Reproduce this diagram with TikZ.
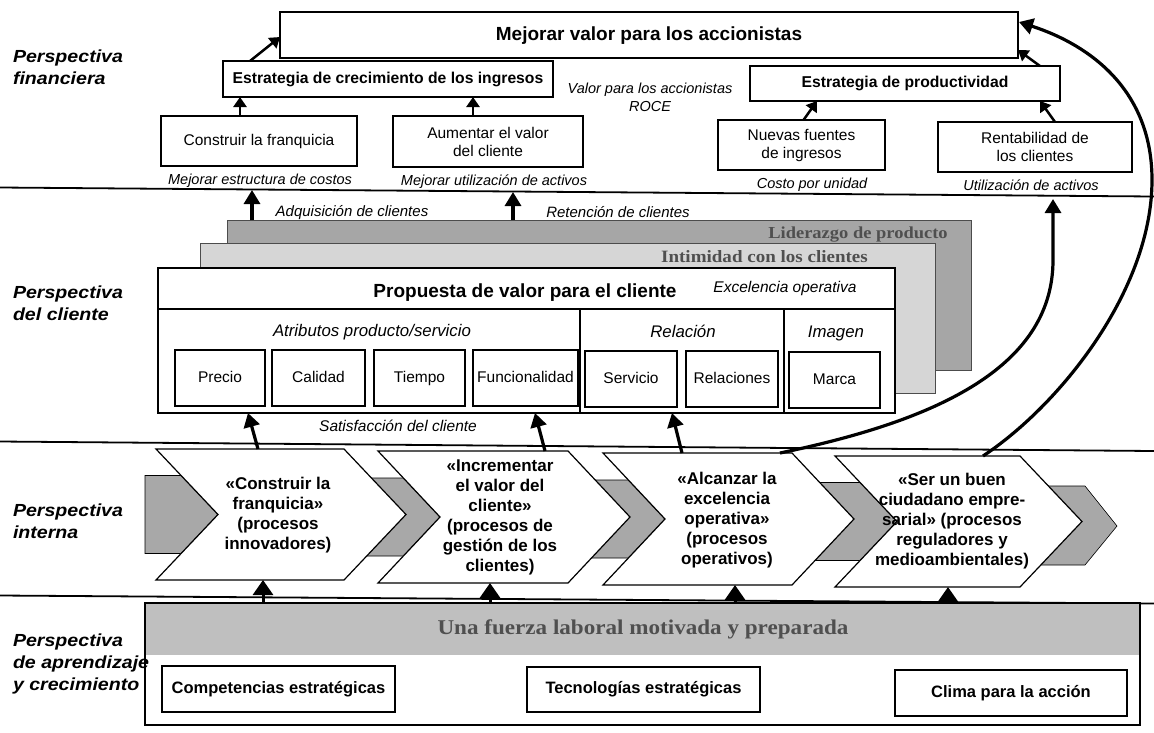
\documentclass[tikz,border=0pt]{standalone}
\usepackage{fontspec}
\setmainfont{Liberation Sans}
\newfontfamily\labfont{Liberation Sans}[FakeStretch=1.12]
\newfontfamily\serfont{Liberation Serif}[FakeStretch=1.1]
\usetikzlibrary{arrows.meta,calc}
\definecolor{dkband}{HTML}{A6A6A6}
\definecolor{ltband}{HTML}{D6D6D6}
\definecolor{lrnband}{HTML}{BFBFBF}
\definecolor{chgray}{HTML}{A8A8A8}
\definecolor{bandtext}{HTML}{4F4F4F}
\newcommand\mychev[4]{% L T B W
  \pgfmathsetmacro\cM{(#2+#3)/2}%
  \draw[chev] (#1,#2) -- ({#1+#4},#2) -- ({#1+#4+62},\cM) -- ({#1+#4},#3) -- (#1,#3) -- ({#1+62},\cM) -- cycle;}
\newcommand\mygray[4]{% xa, L T B of next chevron
  \pgfmathsetmacro\gM{(#3+#4)/2}%
  \pgfmathsetmacro\gx{#2+62*(1-39/(\gM-#3))}%
  \draw[gch] (#1,{\gM-39}) -- (\gx,{\gM-39}) -- ({#2+62},\gM) -- (\gx,{\gM+39}) -- (#1,{\gM+39}) -- cycle;}
\tikzset{
  every node/.style={inner sep=0pt, outer sep=0pt},
  box/.style={draw, line width=1.3pt, fill=white, align=center, font=\fontsize{15.5}{18}\selectfont},
  one/.style={text height=11pt, text depth=3pt},
  bbox/.style={box, one, font=\fontsize{15.7}{19}\selectfont\bfseries},
  lbl/.style={align=left, anchor=west, font=\fontsize{17.5}{22}\selectfont\labfont\bfseries\itshape},
  itl/.style={align=center, font=\fontsize{14.5}{18}\selectfont\itshape},
  band/.style={draw=black!70, line width=0.8pt},
  btext/.style={text=bandtext, one, font=\serfont\bfseries},
  arr/.style={-{Triangle[length=14pt,width=16pt]}, line width=3.2pt},
  sarr/.style={-{Triangle[length=10pt,width=13pt]}, line width=2.5pt},
  barr/.style={-{Triangle[length=15pt,width=20pt]}, line width=3pt},
  chev/.style={draw, line width=1.2pt, fill=white},
  gch/.style={fill=chgray, draw=black, line width=0.6pt},
  ctext/.style={align=center, font=\fontsize{17}{20}\selectfont\bfseries},
  sep/.style={line width=1.8pt},
}
\begin{document}
\begin{tikzpicture}[x=1pt,y=-1pt]
\useasboundingbox (0,0) rectangle (1154,732);
\fill[white] (0,0) rectangle (1154,732);

% section lines
\draw[sep] (0,187.5) -- (1154,196.5);
\draw[sep] (0,441.5) -- (1154,451);
\draw[sep] (0,595.5) -- (1154,603.5);

% left labels
\node[lbl] (pf) at (13,67) {Perspectiva\\financiera};
\node[lbl] (pc) at (13,303) {Perspectiva\\del cliente};
\node[lbl] (pi) at (13,521) {Perspectiva\\interna};
\node[lbl] (pa) at (13,664) {Perspectiva\\de aprendizaje\\y crecimiento};

% ---------------- financial
\node[bbox, font=\fontsize{19}{22}\selectfont\bfseries, minimum width=738pt, minimum height=46pt, text height=14pt, text depth=4pt] (mej) at (649,35) {Mejorar valor para los accionistas};
\node[bbox, minimum width=330pt, minimum height=36pt] (ecr) at (388,79) {Estrategia de crecimiento de los ingresos};
\node[bbox, minimum width=310pt, minimum height=35pt] (epr) at (905,83.5) {Estrategia de productividad};
\node[box, one, minimum width=196pt, minimum height=50pt] (cons) at (259,141) {Construir la franquicia};
\node[box, minimum width=190pt, minimum height=51pt] (aum) at (488,141.5) {Aumentar el valor\\del cliente};
\node[box, minimum width=167pt, minimum height=50pt] (nue) at (801.5,145) {Nuevas fuentes\\de ingresos};
\node[box, minimum width=194pt, minimum height=50pt] (ren) at (1035,147) {Rentabilidad de\\los clientes};
\node[itl] (vpa) at (650,97) {Valor para los accionistas\\ROCE};
\node[itl, one] (l1) at (260,180) {Mejorar estructura de costos};
\node[itl, one] (l2) at (494,181) {Mejorar utilización de activos};
\node[itl, one] (l3) at (812,184) {Costo por unidad};
\node[itl, one] (l4) at (1031,186) {Utilización de activos};

\draw[sarr] ([xshift=-19pt]cons.north) -- ([xshift=-19pt]cons.north |- ecr.south);
\draw[sarr] ([xshift=-15pt]aum.north) -- ([xshift=-15pt]aum.north |- ecr.south);
\draw[sarr] ([xshift=27pt]ecr.north west) -- ([yshift=-2pt]mej.west);
\draw[sarr] ([xshift=2pt]nue.north) -- ([xshift=-88pt]epr.south);
\draw[sarr] ([xshift=20pt]ren.north) -- ([xshift=135pt]epr.south);
\draw[sarr] ([xshift=135pt]epr.north) -- ([yshift=8pt]mej.south east);

% ---------------- customer
\node[band, fill=dkband, minimum width=744pt, minimum height=150pt] (lid) at (599,295) {};
\node[band, fill=ltband, minimum width=735pt, minimum height=150pt] (int) at (567.5,318) {};
\node[draw, line width=1.3pt, fill=white, minimum width=737pt, minimum height=145pt] (prop) at (526.5,340.5) {};
\node[btext, font=\fontsize{16.8}{20}\selectfont\serfont\bfseries] (lidt) at (858,234) {Liderazgo de producto};
\node[btext, font=\fontsize{17.3}{20}\selectfont\serfont\bfseries] (intt) at (764.5,258) {Intimidad con los clientes};
\draw[line width=1.2pt] (prop.north west) ++(0,41) -- ++(737,0);
\draw[line width=1.2pt] (580,309) -- (580,413);
\draw[line width=1.2pt] (784,309) -- (784,413);
\node[font=\fontsize{19}{22}\selectfont\bfseries, text height=14pt, text depth=4pt] (propt) at (525,292) {Propuesta de valor para el cliente};
\node[itl, one, font=\fontsize{15.5}{18}\selectfont\itshape] (exc) at (785,288) {Excelencia operativa};
\node[itl, one, font=\fontsize{16.8}{20}\selectfont\itshape] (atr) at (372,332) {Atributos producto/servicio};
\node[itl, one, font=\fontsize{16.8}{20}\selectfont\itshape] (rel) at (683,333) {Relación};
\node[itl, one, font=\fontsize{16.8}{20}\selectfont\itshape] (ima) at (836,333) {Imagen};
\node[box, one, minimum width=90pt, minimum height=56pt] (pre) at (220,378) {Precio};
\node[box, one, minimum width=93pt, minimum height=56pt] (cal) at (318.5,378) {Calidad};
\node[box, one, minimum width=91pt, minimum height=56pt] (tie) at (419.5,378) {Tiempo};
\node[box, one, minimum width=105pt, minimum height=56pt] (fun) at (525.5,378) {Funcionalidad};
\node[box, one, minimum width=92pt, minimum height=56pt] (ser) at (631,379) {Servicio};
\node[box, one, minimum width=92pt, minimum height=56pt] (rels) at (732,379) {Relaciones};
\node[box, one, minimum width=91pt, minimum height=56pt] (mar) at (834.5,380) {Marca};
\node[itl, one, font=\fontsize{15.5}{18}\selectfont\itshape] (sat) at (398,427) {Satisfacción del cliente};

\node[itl, one, font=\fontsize{15}{18}\selectfont\itshape] (adqt) at (352,212) {Adquisición de clientes};
\node[itl, one, font=\fontsize{15}{18}\selectfont\itshape] (rett) at (618,213) {Retención de clientes};
\coordinate (adq) at (252,190);
\coordinate (ret) at (513,192);
\draw[arr] (adq |- lid.north) -- (adq);
\draw[arr] (ret |- lid.north) -- (ret);

% ---------------- internal
\mygray{145}{156}{449}{580}
\mygray{344}{378}{451}{583}
\mygray{568}{603}{453}{585}
\mygray{792}{835}{456}{587}
\draw[gch] (1000,486) -- (1085,486) -- (1117,526) -- (1085,565) -- (1000,565) -- cycle;
\mychev{156}{449}{580}{188}
\mychev{378}{451}{583}{190}
\mychev{603}{453}{585}{189}
\mychev{835}{456}{587}{185}
\node[ctext] (c1) at (278,515) {«Construir la\\franquicia»\\(procesos\\innovadores)};
\node[ctext] (c2) at (500,517) {«Incrementar\\el valor del\\cliente»\\(procesos de\\gestión de los\\clientes)};
\node[ctext] (c3) at (727,520) {«Alcanzar la\\excelencia\\operativa»\\(procesos\\operativos)};
\node[ctext] (c4) at (952,521) {«Ser un buen\\ciudadano empre-\\sarial» (procesos\\reguladores y\\medioambientales)};
\coordinate (c1t) at (258,449);
\coordinate (c2t) at (545,451);
\coordinate (c3t) at (682,453);
\coordinate (c3u) at (780,453);
\coordinate (c4t) at (983,456);
\coordinate (c1b) at (263,580);
\coordinate (c2b) at (490,583);
\coordinate (c3b) at (735,585);
\coordinate (c4b) at (948,587);

\draw[arr] (c1t) -- ([xshift=-278.5pt]prop.south);
\draw[arr] (c2t) -- ([xshift=8.5pt]prop.south);
\draw[arr] (c3t) -- ([xshift=145.5pt]prop.south);
\coordinate (uact) at (1053,199);
\coordinate (mtip) at (1019,22);
\draw[arr] (c3u) .. controls (930,422) and (1053,370) .. (1053,260) -- (uact);
\draw[arr] (c4t) .. controls (1060,405) and (1152,290) .. (1152,180) .. controls (1152,90) and (1090,45) .. (mtip);

% ---------------- learning
\node[fill=lrnband, minimum width=995pt, minimum height=52pt] (fza) at (642.5,629) {};
\node[draw, line width=1.3pt, minimum width=995pt, minimum height=122pt] (lrn) at (642.5,664) {};
\node[btext, font=\fontsize{21}{24}\selectfont\serfont\bfseries, text height=14pt, text depth=4pt] (fzat) at (643,629) {Una fuerza laboral motivada y preparada};
\node[bbox, font=\fontsize{16.5}{19}\selectfont\bfseries, minimum width=233pt, minimum height=46pt] (comp) at (278.5,689) {Competencias estratégicas};
\node[bbox, font=\fontsize{16.5}{19}\selectfont\bfseries, minimum width=233pt, minimum height=45pt] (tec) at (643.5,689.5) {Tecnologías estratégicas};
\node[bbox, font=\fontsize{16.5}{19}\selectfont\bfseries, minimum width=232pt, minimum height=46pt] (cli) at (1011,693) {Clima para la acción};
\draw[barr] (c1b |- fza.north) -- (c1b);
\draw[barr] (c2b |- fza.north) -- (c2b);
\draw[barr] (c3b |- fza.north) -- (c3b);
\draw[barr] (c4b |- fza.north) -- (c4b);
\end{tikzpicture}
\end{document}
